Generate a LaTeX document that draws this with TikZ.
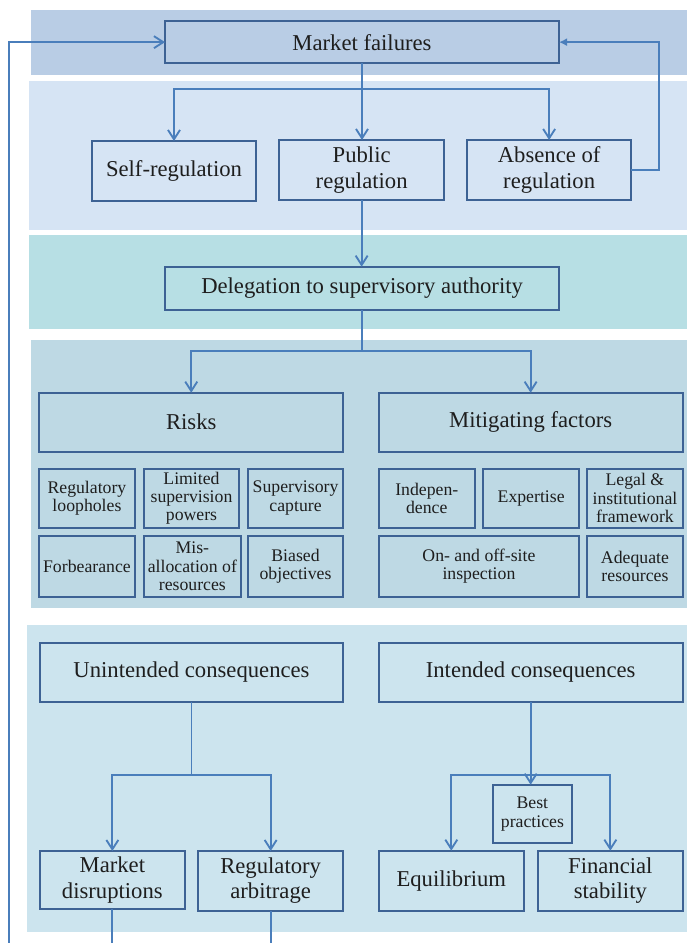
\documentclass[tikz,border=0pt]{standalone}
\usepackage{fontspec}
\setmainfont{Liberation Serif}
\usetikzlibrary{arrows.meta,calc}
\definecolor{bandA}{HTML}{B9CDE5}
\definecolor{bandB}{HTML}{D6E4F4}
\definecolor{bandC}{HTML}{B7DFE4}
\definecolor{bandD}{HTML}{BED9E4}
\definecolor{bandE}{HTML}{CCE4EE}
\definecolor{edge}{HTML}{3D6294}
\definecolor{wire}{HTML}{4A7EBB}
\definecolor{ink}{HTML}{1E1E1E}
\newcommand\bx[7]{\node[#1,minimum width={(#5-#3)*0.75pt},minimum height={(#6-#4)*0.75pt}] (#2) at ({(#3+#5)/2},{(#4+#6)/2}) {#7};}
\begin{document}
\begin{tikzpicture}[x=0.75pt,y=-0.75pt,
 box/.style={draw=edge,line width=1.5pt,inner sep=0pt,outer sep=0pt,align=center,text=ink},
 big/.style={box,font=\fontsize{17}{19}\selectfont},
 small/.style={box,font=\fontsize{13.3}{13.8}\selectfont},
 conn/.style={draw=wire,line width=1.4pt,-{Straight Barb[length=7pt,width=9pt]}},
 connb/.style={draw=wire,line width=1.4pt,-{Latex[length=6pt,width=6pt]}},
 plain/.style={draw=wire,line width=1.4pt}]

\useasboundingbox (0,0) rectangle (687,943);
\clip (0,0) rectangle (687,943);

% bands
\fill[bandA] (31,10) rectangle (687,75);
\fill[bandB] (29.3,81) rectangle (687,230);
\fill[bandC] (29,235) rectangle (687,329.3);
\fill[bandD] (31,340) rectangle (687,607.7);
\fill[bandE] (27,625) rectangle (687,931.7);

% boxes
\bx{big}{mf}{165}{21}{559}{63.3}{Market failures}
\bx{big}{sr}{92.3}{141}{255.7}{200.7}{Self-regulation}
\bx{big}{pr}{279.3}{140}{444}{200}{Public\\regulation}
\bx{big}{ab}{467.3}{140}{631}{200}{Absence of\\regulation}
\bx{big}{dl}{165.2}{266.7}{559}{310}{Delegation to supervisory authority}
\bx{big}{rk}{39.4}{392.7}{343.1}{451.7}{Risks}
\bx{big}{mt}{378.6}{392.7}{682.7}{451.7}{Mitigating factors}

\bx{small}{r1}{39.4}{468.7}{134.5}{527.7}{Regulatory\\loopholes}
\bx{small}{r2}{143.7}{468.7}{239.3}{527.7}{Limited\\supervision\\powers}
\bx{small}{r3}{248}{468.7}{343.1}{527.7}{Supervisory\\capture}
\bx{small}{r4}{39.4}{536}{134.5}{596.7}{Forbearance}
\bx{small}{r5}{143.7}{536}{241}{596.7}{Mis-\\allocation of\\resources}
\bx{small}{r6}{248}{536}{343.1}{596.7}{Biased\\objectives}

\bx{small}{m1}{378.6}{468.7}{475}{527.7}{Indepen-\\dence}
\bx{small}{m2}{483}{468.7}{579.3}{527.7}{Expertise}
\bx{small}{m3}{587.2}{468.7}{682.7}{527.7}{Legal \&\\institutional\\framework}
\bx{small}{m4}{378.6}{536}{579.3}{596.7}{On- and off-site\\inspection}
\bx{small}{m5}{587.2}{536}{682.7}{596.7}{Adequate\\resources}

\bx{big}{un}{39.7}{643}{343.3}{702}{Unintended consequences}
\bx{big}{it}{378.6}{643}{682.7}{702}{Intended consequences}
\bx{small}{bp}{492.5}{784.7}{572.3}{843.3}{Best\\practices}
\bx{big}{md}{39.7}{851}{185}{909.3}{Market\\disruptions}
\bx{big}{ra}{198}{851}{343.3}{910.7}{Regulatory\\arbitrage}
\bx{big}{eq}{378.6}{850.7}{524}{911}{Equilibrium}
\bx{big}{fs}{538}{850.7}{682.7}{911}{Financial\\stability}

% connectors
\coordinate (y1) at (0,89);
\coordinate (j1) at (mf.south |- y1);
\draw[conn] (mf.south) -- (mf.south |- pr.north);
\draw[conn] (j1) -| (sr.north);
\draw[conn] (j1) -| (ab.north);
\draw[connb] (ab.east) -- ++(28,0) |- (mf.east);
\draw[conn] (pr.south) -- (pr.south |- dl.north);

\coordinate (y2) at (0,350.7);
\coordinate (j2) at (dl.south |- y2);
\draw[plain] (dl.south) -- (j2);
\draw[conn] (j2) -| (rk.north);
\draw[conn] (j2) -| (mt.north);

\coordinate (y3) at (0,775);
\coordinate (j3) at (un.south |- y3);
\draw[plain] (un.south) -- (j3);
\draw[conn] (j3) -| (md.north);
\draw[conn] (j3) -| (ra.north);

\coordinate (j4) at (it.south |- y3);
\draw[conn] (it.south) -- (it.south |- bp.north);
\draw[conn] (j4) -| (eq.north);
\draw[conn] (j4) -| (fs.north);

\coordinate (lx) at (9,965);
\draw[conn] (md.south) |- (lx) |- (mf.west);
\draw[plain] (ra.south) -- (ra.south |- lx);
\end{tikzpicture}
\end{document}
